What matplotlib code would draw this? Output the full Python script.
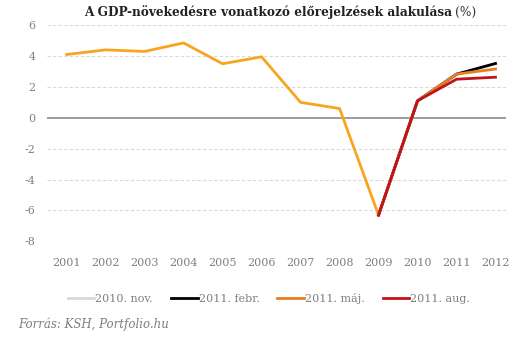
import matplotlib
matplotlib.use("Agg")
import matplotlib.pyplot as plt

plt.rcParams["axes.unicode_minus"] = False

# GDP growth history and the forecasts made at different dates
hist_years = [2001, 2002, 2003, 2004, 2005, 2006, 2007, 2008, 2009]
hist_values = [4.1, 4.4, 4.3, 4.85, 3.5, 3.95, 1.0, 0.6, -6.3]

fc_years = [2009, 2010, 2011, 2012]
fc_nov10 = [-6.3, 1.1, 2.8, 3.5]
fc_feb11 = [-6.3, 1.1, 2.83, 3.52]
fc_may11 = [-6.3, 1.1, 2.83, 3.16]
fc_aug11 = [-6.3, 1.1, 2.5, 2.63]
fc_labels = ["2010. nov.", "2011. febr.", "2011. máj.", "2011. aug."]

year_ticks = list(range(2001, 2013))
y_ticks = [6, 4, 2, 0, -2, -4, -6, -8]

GREY_TXT = "#7f7f7f"
SERIF = "DejaVu Serif"

fig = plt.figure(figsize=(5.31, 3.42), dpi=100)
ax = fig.add_axes([0.088, 0.2944, 0.865, 0.632])

for y in y_ticks:
    if y == 0:
        ax.axhline(0, color="#8c8c8c", lw=1.2, zorder=1)
    else:
        ax.axhline(y, color="#d9d9d9", lw=0.8, ls=(0, (3, 2)), zorder=1)

ax.plot(hist_years, hist_values, color="#F7A51F", lw=2, zorder=3)
series_colors = ["#d9d9d9", "#000000", "#E67E22", "#C0141A"]
for vals, lab, col in zip([fc_nov10, fc_feb11, fc_may11, fc_aug11], fc_labels, series_colors):
    ax.plot(fc_years, vals, color=col, lw=2, label=lab, zorder=3)

ax.set_xlim(2000.49, 2012.27)
ax.set_ylim(-8, 6)
ax.set_xticks(year_ticks)
ax.set_yticks(y_ticks)
ax.tick_params(length=0, labelsize=8, labelcolor=GREY_TXT, pad=8)
ax.tick_params(axis="x", pad=12)
for lbl in ax.get_xticklabels() + ax.get_yticklabels():
    lbl.set_family(SERIF)
for s in ax.spines.values():
    s.set_visible(False)

fig.text(452 / 531, 1 - 12 / 342, "A GDP-növekedésre vonatkozó előrejelzések alakulása",
         ha="right", va="center", family=SERIF, fontweight="bold", fontsize=8.7, color="#222222")
fig.text(455 / 531, 1 - 12 / 342, "(%)", ha="left", va="center", family=SERIF,
         fontsize=8.7, color="#333333")

leg = fig.legend(loc="center", bbox_to_anchor=(269 / 531, 1 - 298 / 342), ncol=4, frameon=False,
                 handlelength=2.4, handletextpad=0.1, columnspacing=1.6,
                 prop={"family": SERIF, "size": 8})
for t in leg.get_texts():
    t.set_color(GREY_TXT)

fig.text(18 / 531, 1 - 324 / 342, "Forrás: KSH, Portfolio.hu", ha="left", va="center",
         family=SERIF, style="italic", fontsize=8.5, color=GREY_TXT)

fig.savefig("out.png", dpi=100)
